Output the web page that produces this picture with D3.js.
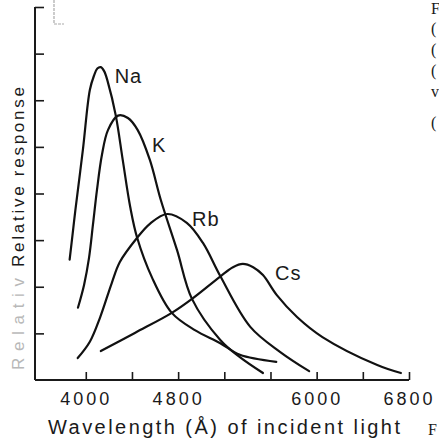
<!DOCTYPE html>
<html>
<head>
<meta charset="utf-8">
<script src="https://cdn.jsdelivr.net/npm/d3@7"></script>
<style>
  html, body { margin: 0; padding: 0; background: #fff; }
  svg { display: block; }
  text { font-family: "Liberation Sans", Arial, sans-serif; }
</style>
</head>
<body>
<div id="chart"></div>
<script>
// wavelength (Angstrom), relative response (axis units)
const naCurve = [[3860,2.58],[3890,3.22],[3910,3.65],[3975,4.94],[4035,6.22],[4070,6.52],[4100,6.68],[4130,6.71],[4160,6.62],[4190,6.40],[4260,5.67],[4320,4.72],[4385,3.71],[4445,3.05],[4575,2.19],[4745,1.44],[4945,1.07],[5165,0.79],[5335,0.54],[5650,0.39]];
const kCurve = [[3932,1.55],[3985,2.04],[4028,2.62],[4062,3.33],[4097,4.08],[4140,4.83],[4192,5.36],[4279,5.67],[4365,5.62],[4450,5.36],[4555,4.72],[4650,3.86],[4790,2.79],[4920,1.74],[5165,0.86],[5335,0.49],[5535,0.15]];
const rbCurve = [[3930,0.47],[4035,0.82],[4125,1.35],[4225,2.08],[4295,2.53],[4445,3.05],[4555,3.35],[4705,3.56],[4875,3.37],[5015,2.94],[5165,2.23],[5425,1.14],[5685,0.60],[5935,0.19]];
const csCurve = [[4130,0.62],[4425,1.01],[4745,1.44],[4920,1.74],[5170,2.23],[5275,2.42],[5360,2.49],[5450,2.42],[5535,2.25],[5655,1.82],[5830,1.35],[6050,0.92],[6525,0.32],[6730,0.15]];

const seriesNames = ["Na", "K", "Rb", "Cs"];
const labelPos = [[4250,6.37],[4574,4.89],[4920,3.30],[5640,2.15]];

const xTicks = [4000, 4400, 4800, 5200, 5600, 6000, 6400, 6800];
const xTickLabels = ["4000", "", "4800", "", "", "6000", "", "6800"];
const yTicks = [1, 2, 3, 4, 5, 6, 7, 8];

const width = 439, height = 442;
const ink = "#1a1a1a";

const svg = d3.select("#chart")
    .append("svg")
    .attr("width", width)
    .attr("height", height);

const x = d3.scaleLinear().domain([3560, 6800]).range([35, 409]);
const y = d3.scaleLinear().domain([0, 8]).range([380, 7]);

// axes, ticks pointing inwards
const xAxis = svg.append("g")
    .attr("transform", "translate(0," + y(0) + ")")
    .call(d3.axisBottom(x).tickValues(xTicks).tickSizeInner(-8).tickSizeOuter(0)
        .tickFormat(function(d, i) { return xTickLabels[i]; }));
xAxis.select(".domain").attr("stroke", ink).attr("stroke-width", 2)
    .attr("d", "M" + x(3560) + ",0H" + x(6800));
xAxis.selectAll(".tick line").attr("stroke", ink).attr("stroke-width", 1.6);
xAxis.selectAll(".tick text")
    .attr("y", 25)
    .attr("dy", 0)
    .style("font-family", "'Liberation Sans', Arial, sans-serif")
    .style("font-size", "18px")
    .style("letter-spacing", "3px")
    .style("fill", ink);

const yAxis = svg.append("g")
    .attr("transform", "translate(" + x(3560) + ",0)")
    .call(d3.axisLeft(y).tickValues(yTicks).tickSizeInner(-9).tickSizeOuter(0).tickFormat(""));
yAxis.select(".domain").attr("stroke", ink).attr("stroke-width", 2)
    .attr("d", "M0," + y(8) + "V" + y(0));
yAxis.selectAll(".tick line").attr("stroke", ink).attr("stroke-width", 1.6);

// curves
const line = d3.line()
    .x(function(d) { return x(d[0]); })
    .y(function(d) { return y(d[1]); })
    .curve(d3.curveCatmullRom.alpha(0.5));

const curves = [naCurve, kCurve, rbCurve, csCurve];
svg.append("g")
    .selectAll("path")
    .data(curves)
    .enter()
    .append("path")
    .attr("d", line)
    .attr("fill", "none")
    .attr("stroke", "#111")
    .attr("stroke-width", 2.2)
    .attr("stroke-linecap", "round");

svg.append("g")
    .selectAll("text")
    .data(seriesNames)
    .enter()
    .append("text")
    .attr("x", function(d, i) { return x(labelPos[i][0]); })
    .attr("y", function(d, i) { return y(labelPos[i][1]); })
    .style("font-size", "20px")
    .style("letter-spacing", "1px")
    .style("fill", ink)
    .text(function(d) { return d; });

// axis titles
svg.append("text")
    .attr("x", 48)
    .attr("y", 434)
    .attr("textLength", 352)
    .attr("lengthAdjust", "spacing")
    .style("font-size", "20px")
    .style("fill", ink)
    .text("Wavelength (Å) of  incident light");

// faded ghost of the label in the scan, then the label itself
svg.append("text")
    .attr("transform", "translate(24,370) rotate(-90)")
    .attr("textLength", 92)
    .attr("lengthAdjust", "spacing")
    .style("font-size", "17px")
    .style("fill", "#b8b8b8")
    .text("Relativ");
svg.append("text")
    .attr("transform", "translate(24,267) rotate(-90)")
    .attr("textLength", 180)
    .attr("lengthAdjust", "spacing")
    .style("font-size", "17px")
    .style("fill", ink)
    .text("Relative response");

// bits of the neighbouring text column
const sideText = [["F", 14], ["(", 34], ["(", 55], ["(", 76], ["v", 97], ["(", 128]];
svg.append("g")
    .selectAll("text")
    .data(sideText)
    .enter()
    .append("text")
    .attr("x", 431)
    .attr("y", function(d) { return d[1]; })
    .style("font-family", "'Liberation Serif', serif")
    .style("font-size", "16px")
    .style("fill", ink)
    .text(function(d) { return d[0]; });
svg.append("text")
    .attr("x", 428)
    .attr("y", 435)
    .style("font-family", "'Liberation Serif', serif")
    .style("font-size", "16px")
    .style("fill", ink)
    .text("F");

// scan corner mark at the top
svg.append("path")
    .attr("d", "M54,0V24H64")
    .attr("fill", "none")
    .attr("stroke", "#aaa")
    .attr("stroke-width", 1.2)
    .attr("stroke-dasharray", "3,1");
</script>
</body>
</html>
